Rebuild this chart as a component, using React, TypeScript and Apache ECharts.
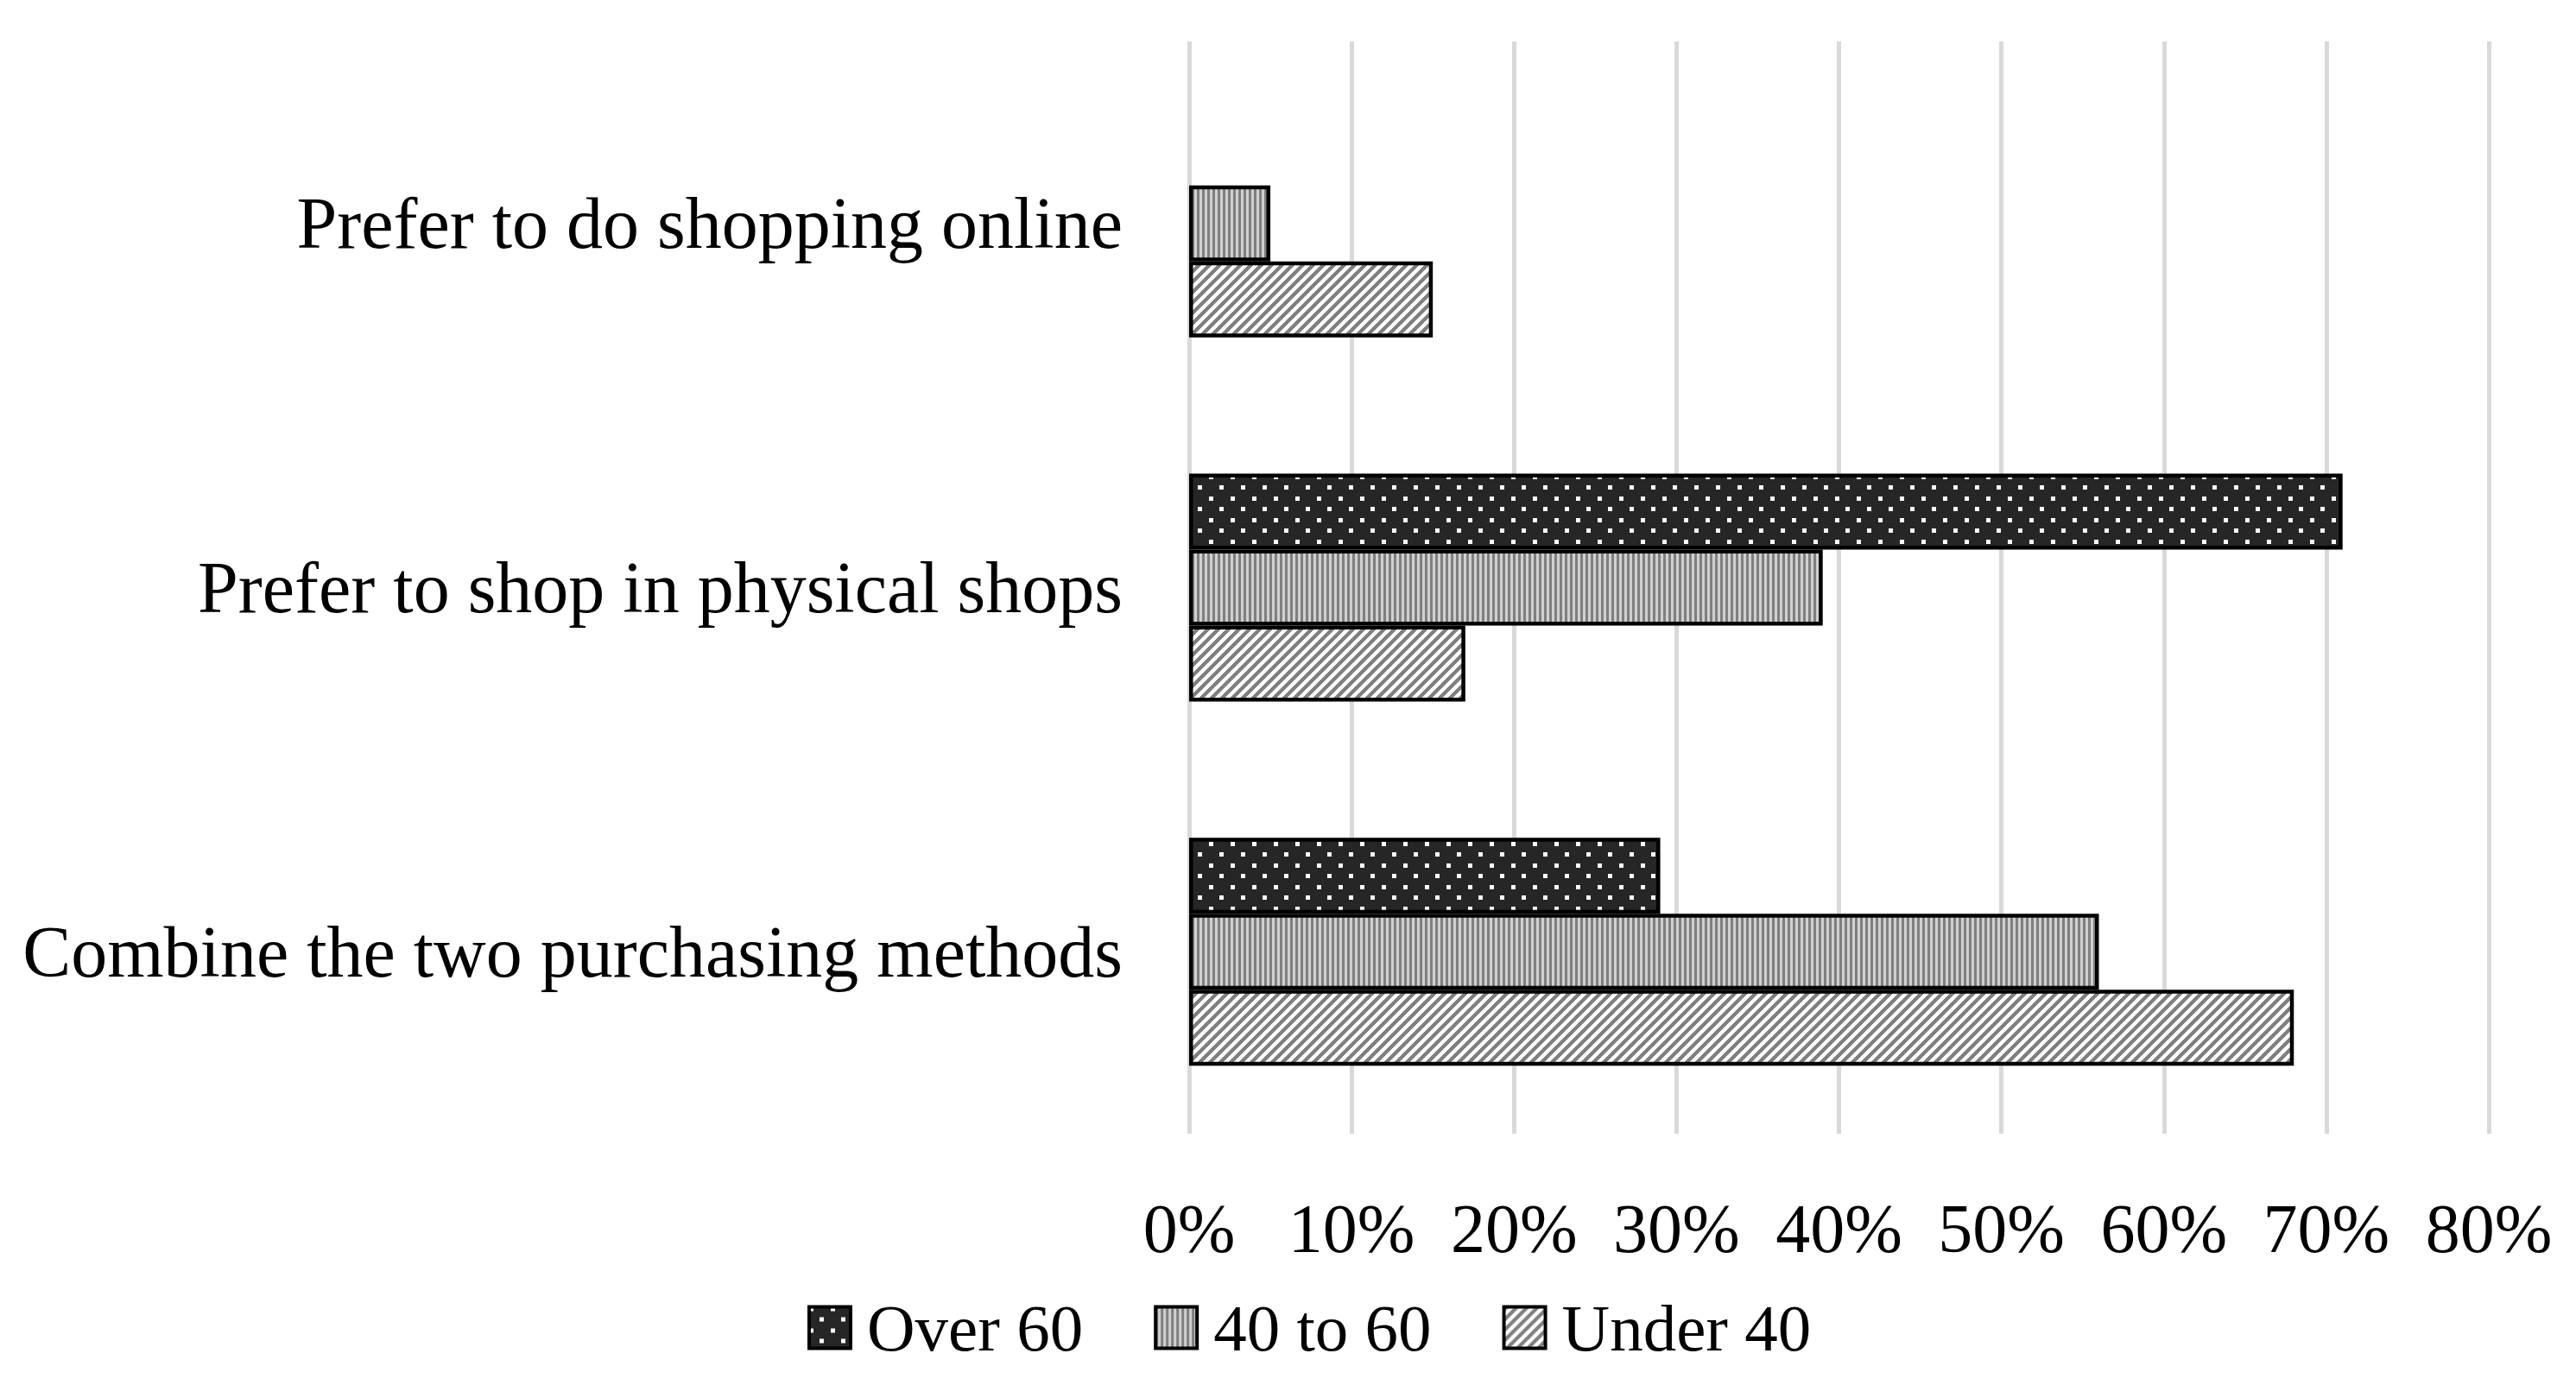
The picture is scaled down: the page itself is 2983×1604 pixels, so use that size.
import React, { useEffect, useRef } from "react";
import * as echarts from "echarts";

const categories = [
  "Prefer to do shopping online",
  "Prefer to shop in physical shops",
  "Combine the two purchasing methods",
];
const seriesNames = ["Over 60", "40 to 60", "Under 40"];
const over60 = [0, 71, 29];
const age40to60 = [5, 39, 56];
const under40 = [15, 17, 68];
const xMin = 0;
const xMax = 80;
const xInterval = 10;

type RGB = [number, number, number];

function makeTile(w: number, h: number, fn: (x: number, y: number) => RGB): HTMLCanvasElement {
  const c = document.createElement("canvas");
  c.width = w;
  c.height = h;
  const ctx = c.getContext("2d")!;
  const img = ctx.createImageData(w, h);
  for (let y = 0; y < h; y++) {
    for (let x = 0; x < w; x++) {
      const [r, g, b] = fn(x, y);
      const i = (y * w + x) * 4;
      img.data[i] = r;
      img.data[i + 1] = g;
      img.data[i + 2] = b;
      img.data[i + 3] = 255;
    }
  }
  ctx.putImageData(img, 0, 0);
  return c;
}

const FONT = "'Liberation Serif', 'Times New Roman', serif";

export default function App() {
  const ref = useRef<HTMLDivElement>(null);
  useEffect(() => {
    if (!ref.current) return;
    const chart = echarts.init(ref.current, null, { renderer: "svg" });

    const dots = makeTile(25, 25, (x, y) => {
      const inA = x < 5 && y < 5;
      const inB = x >= 12 && x < 17 && y >= 12 && y < 17;
      return inA || inB ? [255, 255, 255] : [38, 38, 38];
    });
    const vstripes = makeTile(6, 6, (x) => (x < 3 ? [127, 127, 127] : [208, 208, 208]));
    const diag = makeTile(12, 12, (x, y) => ((x + y) % 12 < 6 ? [128, 128, 128] : [255, 255, 255]));

    const fills = [dots, vstripes, diag];
    const values = [over60, age40to60, under40];

    const series = seriesNames.map((name, si) => ({
      name,
      type: "bar",
      barWidth: 88,
      barGap: "0%",
      itemStyle: {
        color: { image: fills[si], repeat: "repeat" } as any,
        borderColor: "#000",
        borderWidth: 4.5,
      },
      data: values[si].map((v) =>
        v === 0 ? { value: v, itemStyle: { borderWidth: 0 } } : { value: v }
      ),
    }));

    chart.setOption({
      animation: false,
      backgroundColor: "#fff",
      textStyle: { fontFamily: FONT },
      grid: { left: 1377, right: 101, top: 48, bottom: 291, containLabel: false },
      legend: {
        left: 930,
        top: 1494,
        icon: "rect",
        itemWidth: 48,
        itemHeight: 48,
        itemGap: 82,
        data: seriesNames,
        itemStyle: { borderWidth: 4 },
        textStyle: { fontFamily: FONT, fontSize: 77, color: "#000", padding: [0, 0, 0, 14] },
      },
      xAxis: {
        type: "value",
        min: xMin,
        max: xMax,
        interval: xInterval,
        axisLine: { show: false },
        axisTick: { show: false },
        axisLabel: {
          formatter: "{value}%",
          fontFamily: FONT,
          fontSize: 80,
          color: "#000",
          margin: 70,
        },
        splitLine: { show: true, lineStyle: { color: "#d9d9d9", width: 5 } },
      },
      yAxis: {
        type: "category",
        inverse: true,
        data: categories,
        axisLine: { show: false },
        axisTick: { show: false },
        axisLabel: {
          fontFamily: FONT,
          fontSize: 84,
          color: "#000",
          margin: 77,
        },
      },
      series,
    } as any);
    return () => chart.dispose();
  }, []);
  return (
    <div
      ref={ref}
      style={{ position: "fixed", left: 0, top: 0, width: 2983, height: 1604 }}
    />
  );
}
